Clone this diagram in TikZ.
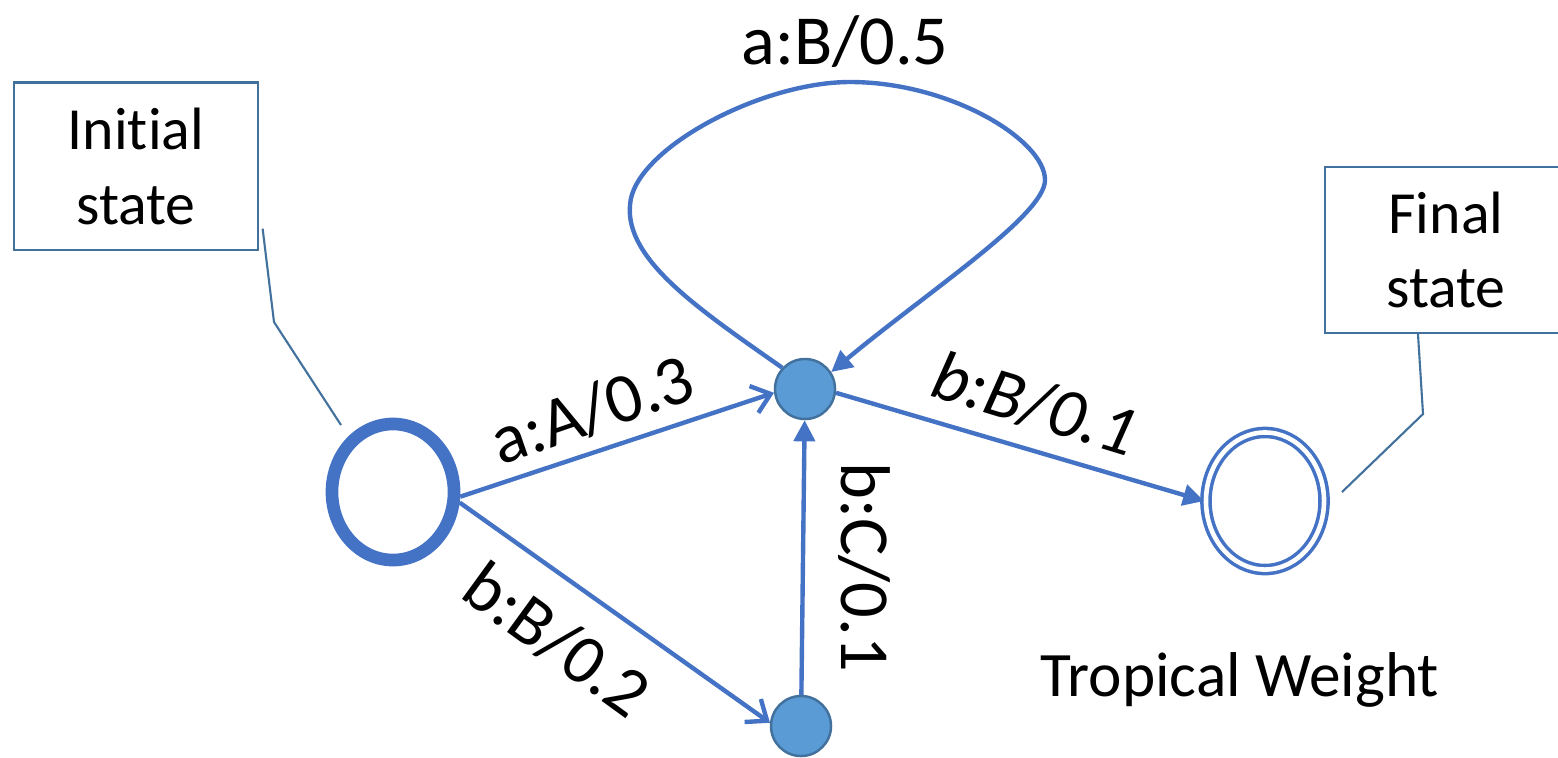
\documentclass[tikz,border=0pt]{standalone}
\usepackage{fontspec}
\setmainfont[Ligatures=NoCommon]{Carlito}
\usetikzlibrary{arrows.meta,shapes.geometric,positioning}
\definecolor{edgeblue}{HTML}{4472C4}
\definecolor{nodefill}{HTML}{5B9BD5}
\definecolor{nodeline}{HTML}{41719C}

\begin{document}
\begin{tikzpicture}[x=0.01cm, y=-0.01cm,
    state/.style={circle, draw=nodeline, line width=0.7pt, fill=nodefill, minimum size=0.6cm, inner sep=0pt},
    initstate/.style={ellipse, draw=edgeblue, line width=3.6pt, minimum width=1.22cm, minimum height=1.36cm, inner sep=0pt},
    finalstate/.style={ellipse, draw=edgeblue, double, line width=1pt, double distance=1.3pt, minimum width=1.18cm, minimum height=1.37cm, inner sep=0pt},
    note/.style={draw=nodeline, line width=0.6pt, minimum width=2.43cm, minimum height=1.67cm, align=center, font=\fontsize{17}{21.3}\selectfont},
    lbl/.style={font=\fontsize{20}{24}\selectfont, inner sep=0pt},
    arr/.style={-{Triangle[length=6pt,width=6pt]}, draw=edgeblue, line width=1.25pt},
    barb/.style={-{Straight Barb[length=5pt,width=8pt]}, draw=edgeblue, line width=1.25pt},
    callout/.style={draw=nodeline, line width=0.6pt}
]
\useasboundingbox (0,0) rectangle (1558,757);

\node[initstate] (q0) at (393,492) {};
\node[state] (q1) at (805,389) {};
\node[state] (q2) at (801,726) {};
\node[finalstate] (qf) at (1265,501) {};

\node[note] (ibox) at (136,166) {Initial\\state};
\node[note, minimum width=2.42cm, minimum height=1.66cm] (fbox) at (1446,250) {Final\\state};

\node[lbl] (lab) at (845,42) {a:B/0.5};
\node[lbl, rotate=19] (laa) at (592,410) {a:A/0.3};
\node[lbl, rotate=-36] (lbb) at (557,640) {b:B/0.2};
\node[lbl, rotate=-90] (lbc) at (864,567) {b:C/0.1};
\node[lbl, rotate=-17, font=\fontsize{20}{24}\selectfont\itshape] (lbf) at (1035,404) {b:B/0.1};
\node[font=\fontsize{18}{21}\selectfont] (tw) at (1240,680) {Tropical Weight};

\draw[barb] (q0.-4) -- (q1.187);
\draw[barb] (q0.-9) -- (q2.174);
\draw[arr] (q2) -- (q1);
\draw[arr] (q1.-7) -- (qf.180);
\draw[arr] (q1.137) .. controls (700,310) and (625,260) .. (630,205)
    .. controls (633,150) and (760,82) .. (850,82)
    .. controls (950,82) and (1045,140) .. (1045,180)
    .. controls (1045,215) and (930,290) .. (q1.33);

\coordinate (ibend) at (274,322);
\coordinate (itip) at (341,425);
\coordinate (fbend) at (1423,414);
\coordinate (ftip) at (1342,492);
\draw[callout] ([shift={(4,-22)}]ibox.south east) -- (ibend) -- (itip);
\draw[callout] ([xshift=-0.28cm]fbox.south) -- (fbend) -- (ftip);
\end{tikzpicture}
\end{document}
